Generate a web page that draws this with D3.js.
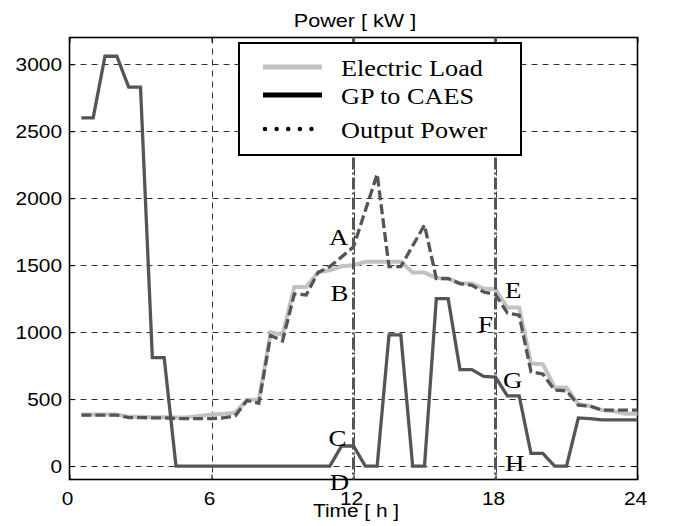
<!DOCTYPE html>
<html>
<head>
<meta charset="utf-8">
<script src="https://cdn.jsdelivr.net/npm/d3@7"></script>
<style>
  body { margin: 0; background: #fff; }
  svg { display: block; }
  .sans { font-family: "Liberation Sans", Arial, Helvetica, sans-serif; }
  .serif { font-family: "Liberation Serif", "Times New Roman", serif; }
</style>
</head>
<body>
<svg id="chart" width="673" height="526"></svg>
<script>
// half-hour samples
const hours = [0.5, 1, 1.5, 2, 2.5, 3, 3.5, 4, 4.5, 5, 5.5, 6, 6.5, 7, 7.5, 8,
  8.5, 9, 9.5, 10, 10.5, 11, 11.5, 12, 12.5, 13, 13.5, 14, 14.5, 15, 15.5, 16,
  16.5, 17, 17.5, 18, 18.5, 19, 19.5, 20, 20.5, 21, 21.5, 22, 22.5, 23, 23.5, 24]

const electricLoad = [385, 385, 385, 385, 368, 368, 365, 365,
  362, 365, 375, 385, 390, 398, 495, 495,
  1000, 980, 1338, 1338, 1445, 1462, 1492, 1500,
  1525, 1525, 1525, 1525, 1445, 1445, 1405, 1400,
  1363, 1363, 1326, 1320, 1184, 1184, 766, 761,
  587, 587, 463, 448, 418, 410, 390, 390]

const gpToCaes = [2600, 2600, 3060, 3060, 2830, 2830, 810, 810,
  0, 0, 0, 0, 0, 0, 0, 0,
  0, 0, 0, 0, 0, 0, 150, 150,
  0, 0, 980, 980, 0, 0, 1250, 1250,
  720, 720, 670, 665, 525, 525, 95, 95,
  0, 0, 360, 355, 345, 345, 345, 345]

const outputPower = [380, 380, 380, 380, 362, 362, 360, 360,
  355, 355, 355, 355, 360, 375, 490, 470,
  975, 935, 1285, 1278, 1445, 1490, 1562, 1637,
  1908, 2180, 1490, 1490, 1645, 1800, 1400, 1400,
  1363, 1350, 1300, 1280, 1144, 1127, 704, 687,
  567, 562, 455, 448, 418, 418, 418, 418]

const xTicks = [0, 6, 12, 18, 24]
const yTicks = [0, 500, 1000, 1500, 2000, 2500, 3000]
const markerHours = [12, 18]

// letter annotations: [label, hour, kW]
const annotations = [
  ['A', 10.96, 1650], ['B', 11.03, 1230], ['C', 10.94, 148], ['D', 11.0, -180],
  ['E', 18.4, 1254], ['F', 17.26, 1000], ['G', 18.32, 582], ['H', 18.4, -37]
]

const legendItems = ['Electric Load', 'GP to CAES', 'Output Power']

const svg = d3.select('#chart')
const plotLeft = 69.5
const plotRight = 637.5
const plotTop = 37.5
const plotBottom = 479.5
const stretch = 1.16

const x = d3.scaleLinear().domain([0, 24]).range([plotLeft, plotRight])
const y = d3.scaleLinear().domain([-100, 3200]).range([plotBottom, plotTop])

// grid
const grid = svg.append('g')
  .attr('stroke', '#333')
  .attr('stroke-width', 1)
  .attr('stroke-dasharray', '6,5')

grid.selectAll('line.h')
  .data(yTicks)
  .enter()
  .append('line')
  .attr('x1', plotLeft)
  .attr('x2', plotRight)
  .attr('y1', d => Math.round(y(d)) + 0.5)
  .attr('y2', d => Math.round(y(d)) + 0.5)

grid.selectAll('line.v')
  .data(xTicks.slice(1, -1))
  .enter()
  .append('line')
  .attr('x1', d => Math.round(x(d)) + 0.5)
  .attr('x2', d => Math.round(x(d)) + 0.5)
  .attr('y1', plotTop)
  .attr('y2', plotBottom)

// ticks (inward) on all four sides
const tickLen = 5
svg.append('g')
  .attr('transform', `translate(0,${plotBottom})`)
  .call(d3.axisBottom(x).tickValues(xTicks).tickSize(-tickLen).tickFormat(''))
svg.append('g')
  .attr('transform', `translate(0,${plotTop})`)
  .call(d3.axisTop(x).tickValues(xTicks).tickSize(-tickLen).tickFormat(''))
svg.append('g')
  .attr('transform', `translate(${plotLeft},0)`)
  .call(d3.axisLeft(y).tickValues(yTicks).tickSize(-tickLen).tickFormat(''))
svg.append('g')
  .attr('transform', `translate(${plotRight},0)`)
  .call(d3.axisRight(y).tickValues(yTicks).tickSize(-tickLen).tickFormat(''))
svg.selectAll('.domain').remove()
svg.selectAll('.tick line').attr('stroke', '#000').attr('stroke-width', 1)

// frame
svg.append('rect')
  .attr('x', plotLeft)
  .attr('y', plotTop)
  .attr('width', plotRight - plotLeft)
  .attr('height', plotBottom - plotTop)
  .attr('fill', 'none')
  .attr('stroke', '#000')
  .attr('stroke-width', 1.6)

// tick labels
svg.append('g').attr('class', 'sans')
  .selectAll('text')
  .data(xTicks)
  .enter()
  .append('text')
  .attr('transform', d => `translate(${x(d) - 2},505) scale(${stretch},1)`)
  .attr('text-anchor', 'middle')
  .attr('font-size', 18)
  .text(d => d)

svg.append('g').attr('class', 'sans')
  .selectAll('text')
  .data(yTicks)
  .enter()
  .append('text')
  .attr('transform', d => `translate(62,${y(d) + 6.5}) scale(${stretch},1)`)
  .attr('text-anchor', 'end')
  .attr('font-size', 18)
  .text(d => d)

// titles
svg.append('text').attr('class', 'sans')
  .attr('transform', `translate(355,27) scale(1.2,1)`)
  .attr('text-anchor', 'middle')
  .attr('font-size', 18)
  .text('Power [ kW ]')

svg.append('text').attr('class', 'sans')
  .attr('transform', `translate(356,517) scale(${stretch},1)`)
  .attr('text-anchor', 'middle')
  .attr('font-size', 18)
  .text('Time [ h ]')

// series
const line = vals => d3.line()
  .x((d, i) => x(hours[i]))
  .y(d => y(d))(vals)

svg.append('path')
  .attr('d', line(electricLoad))
  .attr('fill', 'none')
  .attr('stroke', '#c2c2c2')
  .attr('stroke-width', 4)

svg.append('path')
  .attr('d', line(gpToCaes))
  .attr('fill', 'none')
  .attr('stroke', '#555')
  .attr('stroke-width', 3.3)

svg.append('path')
  .attr('d', line(outputPower))
  .attr('fill', 'none')
  .attr('stroke', '#555')
  .attr('stroke-width', 3.3)
  .attr('stroke-dasharray', '10,4')

// dash-dot markers at 12 h and 18 h
svg.selectAll('line.marker')
  .data(markerHours)
  .enter()
  .append('line')
  .attr('x1', d => x(d))
  .attr('x2', d => x(d))
  .attr('y1', plotTop)
  .attr('y2', plotBottom)
  .attr('stroke', '#555')
  .attr('stroke-width', 3)
  .attr('stroke-dasharray', '12,3,2,3')

// annotations
svg.append('g').attr('class', 'serif')
  .selectAll('text')
  .data(annotations)
  .enter()
  .append('text')
  .attr('transform', d => `translate(${x(d[1])},${y(d[2])}) scale(1.12,1)`)
  .attr('font-size', 24)
  .text(d => d[0])

// legend
const legend = svg.append('g').attr('class', 'serif')
legend.append('rect')
  .attr('x', 239)
  .attr('y', 43)
  .attr('width', 282)
  .attr('height', 112)
  .attr('fill', '#fff')
  .attr('stroke', '#000')
  .attr('stroke-width', 2)

const legendY = [67, 95, 129]
const legendStroke = [
  { color: '#c2c2c2', width: 5, dash: null, cap: 'butt' },
  { color: '#000', width: 5, dash: null, cap: 'butt' },
  { color: '#000', width: 4.5, dash: '0.01,11.6', cap: 'round' }
]

legendItems.forEach((name, i) => {
  legend.append('line')
    .attr('x1', i === 2 ? 265 : 263)
    .attr('x2', 322)
    .attr('y1', legendY[i])
    .attr('y2', legendY[i])
    .attr('stroke', legendStroke[i].color)
    .attr('stroke-width', legendStroke[i].width)
    .attr('stroke-linecap', legendStroke[i].cap)
    .attr('stroke-dasharray', legendStroke[i].dash)
  legend.append('text')
    .attr('transform', `translate(341,${legendY[i] + 9}) scale(1.14,1)`)
    .attr('font-size', 23)
    .text(name)
})
</script>
</body>
</html>
